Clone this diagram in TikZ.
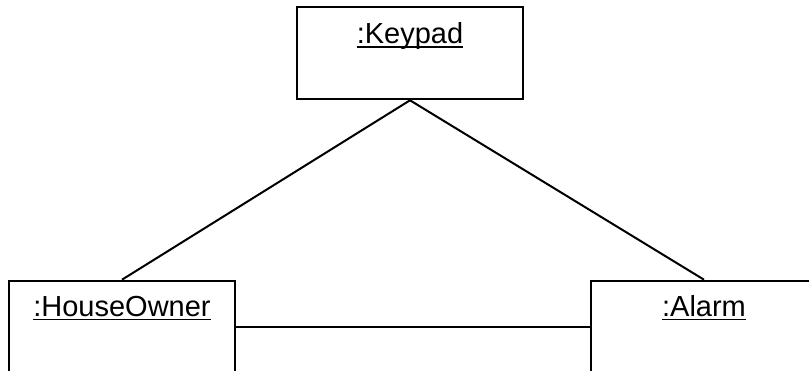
\documentclass[tikz,border=0pt]{standalone}
\usepackage{fontspec}
\setmainfont{Liberation Sans}
% underlined object name, the rule runs through the descenders
\newcommand{\objname}[1]{\setbox0\hbox{#1}\rlap{\rule[-4pt]{\wd0}{1.5pt}}\box0}

\begin{document}
\begin{tikzpicture}[x=1pt,y=1pt,
    object/.style={draw, line width=2.6pt, minimum width=226pt, inner sep=0pt,
        text height=37pt, text depth=55pt, font=\fontsize{29}{31}\selectfont},
    link/.style={line width=2pt}]

    % --- Frame ---
    \useasboundingbox (0,0) rectangle (809,-371);

    % --- Objects ---
    \node[object] (keypad) at (410,-53) {\objname{:Keypad}};
    \node[object, text height=35.5pt, text depth=56.5pt] (owner) at (122,-327) {\objname{:HouseOwner}};
    \node[object, text height=35.5pt, text depth=56.5pt] (alarm) at (704,-327) {\objname{:Alarm}};

    % --- Links ---
    \draw[link] (keypad.south) -- (owner.north);
    \draw[link] (keypad.south) -- (alarm.north);
    \draw[link] (owner.east) -- (alarm.west);

\end{tikzpicture}
\end{document}
